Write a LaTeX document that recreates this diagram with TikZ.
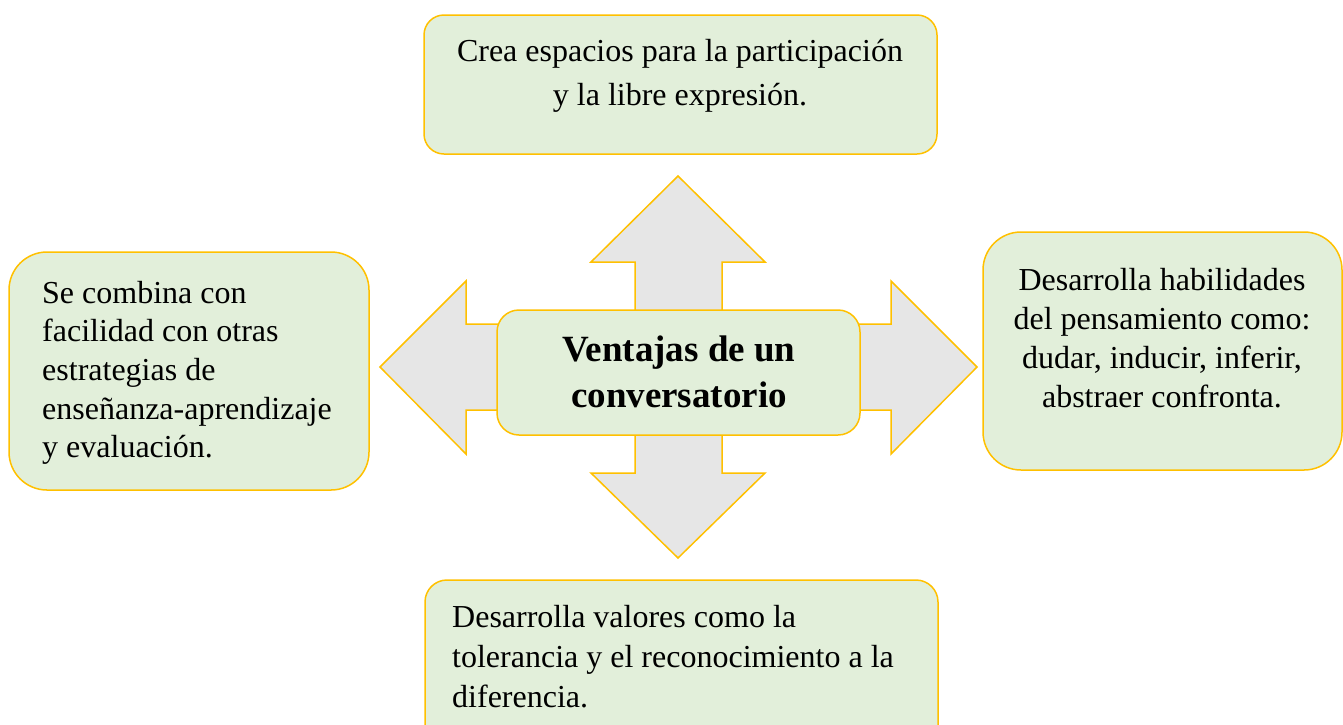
\documentclass[tikz,border=0pt]{standalone}
\usepackage{fontspec}
\setmainfont{Liberation Serif}
\usepackage{tikz}
\definecolor{ConvVerde}{RGB}{226,239,218}
\definecolor{ConvBorde}{RGB}{255,192,0}
\definecolor{ConvFlecha}{RGB}{230,230,230}

\begin{document}
\begin{tikzpicture}[x=1pt,y=-1pt,
  caja/.style n args={3}{draw=ConvBorde,fill=ConvVerde,line width=1.5pt,rectangle,minimum width=#1pt,minimum height=#2pt,rounded corners=#3pt,inner sep=0pt},
  flecha/.style={draw=ConvBorde,fill=ConvFlecha,line width=1.5pt,line join=miter},
  txt/.style={inner sep=0pt,text width=#1pt,font=\fontsize{32}{38.7}\selectfont},
  txtc/.style={txt=#1,anchor=base,execute at begin node={\centering\spaceskip=0pt\xspaceskip=0pt}},
  txtl/.style={txt=#1,anchor=base west,execute at begin node={\raggedright\spaceskip=0pt\xspaceskip=0pt}}]
\useasboundingbox (0,0) rectangle (1343,724);
\clip (0,0) rectangle (1343,724);
% flecha de cuatro puntas
\draw[flecha] (678,176) -- (765,262) -- (722,262) -- (722,324) -- (891,324) -- (891,281)
   -- (977,367) -- (891,454) -- (891,410) -- (722,410) -- (722,473) -- (765,473)
   -- (678,558) -- (591,473) -- (635,473) -- (635,410) -- (466,410) -- (466,454)
   -- (380,367) -- (466,281) -- (466,324) -- (635,324) -- (635,262) -- (591,262) -- cycle;
% cajas
\node[caja={513}{139}{20}] (arriba) at (680.5,84.5) {};
\node[caja={360}{238}{38}] (izq) at (189,371) {};
\node[caja={359}{238}{38}] (der) at (1162.5,351) {};
\node[caja={513}{200}{22}] (abajo) at (681.5,680) {};
\node[caja={363}{125}{22}] (centro) at (678.5,372.5) {};
% textos
\node[txtc=520,font=\fontsize{32}{44}\selectfont] (arribaT) at (680,61)
   {Crea espacios para la participación\\y la libre expresión.};
\node[txtc=340,font=\bfseries\fontsize{37}{46}\selectfont] (centroT) at (679,361)
   {Ventajas de un\\conversatorio};
\node[txtl=320] (izqT) at (42,303)
   {Se combina con\\facilidad con otras\\estrategias de\\enseñanza-aprendizaje\\y evaluación.};
\node[txtc=350,font=\fontsize{32}{39}\selectfont] (derT) at (1162,290)
   {Desarrolla habilidades\\del pensamiento como:\\dudar, inducir, inferir,\\abstraer confronta.};
\node[txtl=480,font=\fontsize{32}{40}\selectfont] (abajoT) at (452,627)
   {Desarrolla valores como la\\tolerancia y el reconocimiento a la\\diferencia.};
\end{tikzpicture}
\end{document}
